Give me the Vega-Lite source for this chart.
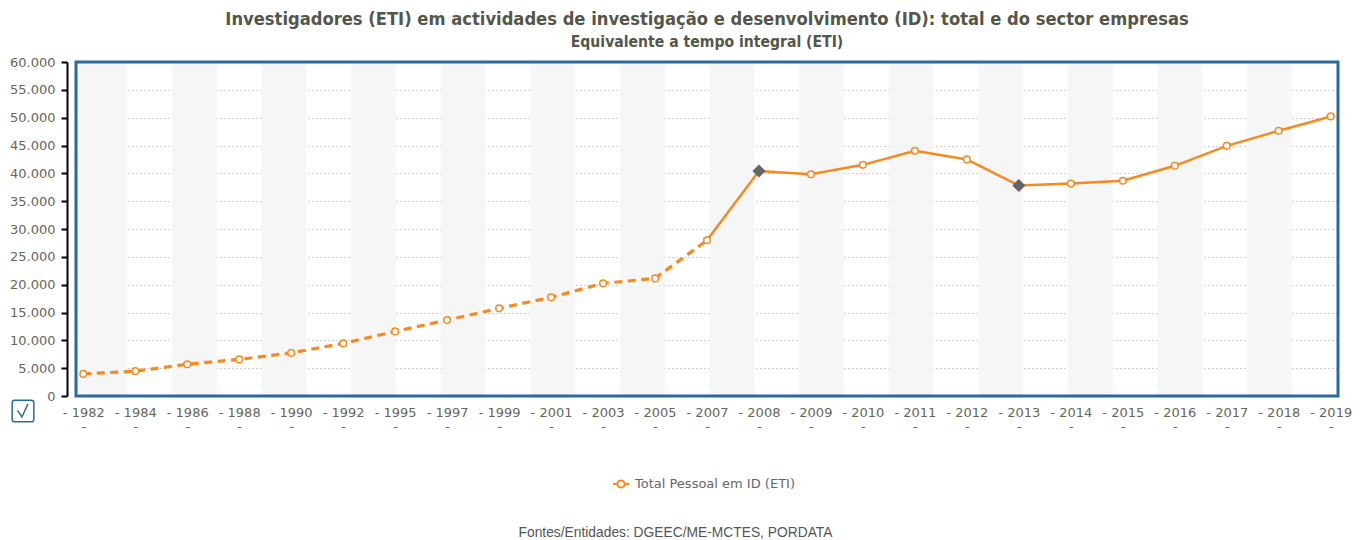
{
  "$schema": "https://vega.github.io/schema/vega-lite/v6.json",
  "width": 1262,
  "height": 334,
  "autosize": {"type": "none"},
  "padding": {"left": 76, "top": 62, "right": 27, "bottom": 144},
  "background": "white",
  "title": {
    "text": "Investigadores (ETI) em actividades de investigação e desenvolvimento (ID): total e do sector empresas",
    "subtitle": "Equivalente a tempo integral (ETI)",
    "anchor": "middle",
    "font": "DejaVu Sans Condensed",
    "fontSize": 18.2,
    "fontWeight": "bold",
    "color": "#55564a",
    "subtitleFont": "DejaVu Sans Condensed",
    "subtitleFontSize": 15.6,
    "subtitleFontWeight": "bold",
    "subtitleColor": "#55564a",
    "subtitlePadding": 6,
    "offset": 4
  },
  "config": {
    "view": {"stroke": null},
    "axis": {"labelFont": "DejaVu Sans", "labelFontSize": 13, "labelColor": "#666658"},
    "legend": {"labelFont": "DejaVu Sans", "labelFontSize": 13, "labelColor": "#666666"}
  },
  "datasets": {
    "faixas": [
      {"b0": -1, "b1": 1}, {"b0": 2, "b1": 3}, {"b0": 4, "b1": 5}, {"b0": 6, "b1": 7},
      {"b0": 8, "b1": 9}, {"b0": 10, "b1": 11}, {"b0": 12, "b1": 13}, {"b0": 14, "b1": 15},
      {"b0": 16, "b1": 17}, {"b0": 18, "b1": 19}, {"b0": 20, "b1": 21}, {"b0": 22, "b1": 23},
      {"b0": 24, "b1": 25}, {"b0": 26, "b1": 27}
    ],
    "moldura": [{"moldura": "area"}],
    "linha": [
      {"ano": "1982", "valor": 3963, "troco": "tracejado"},
      {"ano": "1984", "valor": 4464, "troco": "tracejado"},
      {"ano": "1986", "valor": 5712, "troco": "tracejado"},
      {"ano": "1988", "valor": 6577, "troco": "tracejado"},
      {"ano": "1990", "valor": 7736, "troco": "tracejado"},
      {"ano": "1992", "valor": 9451, "troco": "tracejado"},
      {"ano": "1995", "valor": 11599, "troco": "tracejado"},
      {"ano": "1997", "valor": 13642, "troco": "tracejado"},
      {"ano": "1999", "valor": 15752, "troco": "tracejado"},
      {"ano": "2001", "valor": 17725, "troco": "tracejado"},
      {"ano": "2003", "valor": 20242, "troco": "tracejado"},
      {"ano": "2005", "valor": 21126, "troco": "tracejado"},
      {"ano": "2007", "valor": 27986, "troco": "tracejado"},
      {"ano": "2007", "valor": 27986, "troco": "continuo"},
      {"ano": "2008", "valor": 40408, "troco": "continuo"},
      {"ano": "2009", "valor": 39834, "troco": "continuo"},
      {"ano": "2010", "valor": 41523, "troco": "continuo"},
      {"ano": "2011", "valor": 44043, "troco": "continuo"},
      {"ano": "2012", "valor": 42497, "troco": "continuo"},
      {"ano": "2013", "valor": 37813, "troco": "continuo"},
      {"ano": "2014", "valor": 38155, "troco": "continuo"},
      {"ano": "2015", "valor": 38672, "troco": "continuo"},
      {"ano": "2016", "valor": 41349, "troco": "continuo"},
      {"ano": "2017", "valor": 44938, "troco": "continuo"},
      {"ano": "2018", "valor": 47652, "troco": "continuo"},
      {"ano": "2019", "valor": 50223, "troco": "continuo"}
    ],
    "pontos": [
      {"ano": "1982", "valor": 3963, "marcador": "circulo"},
      {"ano": "1984", "valor": 4464, "marcador": "circulo"},
      {"ano": "1986", "valor": 5712, "marcador": "circulo"},
      {"ano": "1988", "valor": 6577, "marcador": "circulo"},
      {"ano": "1990", "valor": 7736, "marcador": "circulo"},
      {"ano": "1992", "valor": 9451, "marcador": "circulo"},
      {"ano": "1995", "valor": 11599, "marcador": "circulo"},
      {"ano": "1997", "valor": 13642, "marcador": "circulo"},
      {"ano": "1999", "valor": 15752, "marcador": "circulo"},
      {"ano": "2001", "valor": 17725, "marcador": "circulo"},
      {"ano": "2003", "valor": 20242, "marcador": "circulo"},
      {"ano": "2005", "valor": 21126, "marcador": "circulo"},
      {"ano": "2007", "valor": 27986, "marcador": "circulo"},
      {"ano": "2008", "valor": 40408, "marcador": "losango"},
      {"ano": "2009", "valor": 39834, "marcador": "circulo"},
      {"ano": "2010", "valor": 41523, "marcador": "circulo"},
      {"ano": "2011", "valor": 44043, "marcador": "circulo"},
      {"ano": "2012", "valor": 42497, "marcador": "circulo"},
      {"ano": "2013", "valor": 37813, "marcador": "losango"},
      {"ano": "2014", "valor": 38155, "marcador": "circulo"},
      {"ano": "2015", "valor": 38672, "marcador": "circulo"},
      {"ano": "2016", "valor": 41349, "marcador": "circulo"},
      {"ano": "2017", "valor": 44938, "marcador": "circulo"},
      {"ano": "2018", "valor": 47652, "marcador": "circulo"},
      {"ano": "2019", "valor": 50223, "marcador": "circulo"}
    ]
  },
  "resolve": {"scale": {"x": "independent"}, "axis": {"x": "independent"}},
  "layer": [
    {
      "data": {"name": "faixas"},
      "mark": {"type": "rect", "fill": "#f6f6f6", "clip": true},
      "encoding": {
        "x": {"field": "b0", "type": "quantitative", "axis": null,
              "scale": {"domain": [-0.143, 28.03], "nice": false, "zero": false}},
        "x2": {"field": "b1"}
      }
    },
    {
      "data": {"name": "linha"},
      "layer": [
        {
          "transform": [{"filter": "datum.troco === 'tracejado'"}],
          "mark": {"type": "line", "color": "#f7891f", "strokeWidth": 3.2, "strokeDash": [8, 5.5]},
          "encoding": {
            "x": {"field": "ano", "type": "ordinal"},
            "y": {"field": "valor", "type": "quantitative"}
          }
        },
        {
          "transform": [{"filter": "datum.troco === 'continuo'"}],
          "mark": {"type": "line", "color": "#f7891f", "strokeWidth": 2.5},
          "encoding": {
            "x": {"field": "ano", "type": "ordinal"},
            "y": {"field": "valor", "type": "quantitative"}
          }
        },
        {
          "data": {"name": "pontos"},
          "transform": [{"filter": "datum.marcador === 'circulo'"}],
          "mark": {"type": "point", "shape": "circle", "filled": true, "fill": "white", "size": 44, "strokeWidth": 1.5, "opacity": 1},
          "encoding": {
            "x": {"field": "ano", "type": "ordinal"},
            "y": {"field": "valor", "type": "quantitative"},
            "stroke": {
              "datum": "Total Pessoal em ID (ETI)",
              "scale": {"range": ["#f7891f"]},
              "legend": {
                "title": null,
                "orient": "none",
                "legendX": 536,
                "legendY": 413,
                "symbolType": "M-1,0L-0.45,0M0.45,0L1,0M-0.45,0A0.45,0.45,0,1,1,0.45,0A0.45,0.45,0,1,1,-0.45,0",
                "symbolSize": 256,
                "symbolStrokeWidth": 2,
                "symbolFillColor": "white",
                "symbolStrokeColor": "#f7891f",
                "labelOffset": 5
              }
            }
          }
        },
        {
          "data": {"name": "pontos"},
          "transform": [{"filter": "datum.marcador === 'losango'"}],
          "mark": {"type": "point", "shape": "diamond", "filled": true, "fill": "#646464", "size": 170, "opacity": 1},
          "encoding": {
            "x": {"field": "ano", "type": "ordinal"},
            "y": {"field": "valor", "type": "quantitative"}
          }
        }
      ],
      "encoding": {
        "x": {
          "field": "ano",
          "type": "ordinal",
          "scale": {"type": "point", "padding": 0.14},
          "axis": {
            "title": "Fontes/Entidades: DGEEC/ME-MCTES, PORDATA",
            "titleFont": "Liberation Sans",
            "titleFontSize": 13.8,
            "titleFontWeight": "normal",
            "titleColor": "#555555",
            "titlePadding": 92,
            "titleX": 599,
            "labelAngle": 0,
            "labelExpr": "['- ' + datum.label, '-']",
            "labelLineHeight": 14,
            "labelPadding": 10,
            "domain": false,
            "ticks": false,
            "grid": false
          }
        },
        "y": {
          "field": "valor",
          "type": "quantitative",
          "scale": {"domain": [0, 60000], "nice": false},
          "axis": {
            "title": null,
            "values": [0, 5000, 10000, 15000, 20000, 25000, 30000, 35000, 40000, 45000, 50000, 55000, 60000],
            "labelExpr": "replace(format(datum.value, ','), ',', '.')",
            "offset": 9,
            "domainColor": "#000000",
            "domainWidth": 2,
            "tickColor": "#000000",
            "tickWidth": 2,
            "tickSize": 6,
            "labelPadding": 6,
            "grid": true,
            "gridColor": "#a0a0a0",
            "gridDash": [1, 3],
            "gridWidth": 1
          }
        }
      }
    },
    {
      "data": {"name": "moldura"},
      "mark": {"type": "rect", "filled": false, "strokeWidth": 3},
      "encoding": {
        "color": {
          "datum": "seleccionar",
          "scale": {"range": ["#2b6a9b"]},
          "legend": {
            "title": null,
            "orient": "none",
            "legendX": -65,
            "legendY": 337,
            "padding": 0,
            "symbolType": "M-0.75,-1H0.75A0.25,0.25,0,0,1,1,-0.75V0.75A0.25,0.25,0,0,1,0.75,1H-0.75A0.25,0.25,0,0,1,-1,0.75V-0.75A0.25,0.25,0,0,1,-0.75,-1ZM-0.5,-0.05L-0.1,0.55L0.45,-0.65",
            "symbolSize": 470,
            "symbolStrokeWidth": 1.5,
            "symbolFillColor": "white",
            "symbolOpacity": 1,
            "labelExpr": "''",
            "encode": {
              "symbols": {
                "enter": {"stroke": {"value": "#4da3f2"}, "fill": {"value": "white"}},
                "update": {"stroke": {"value": "#4da3f2"}, "fill": {"value": "white"}}
              }
            }
          }
        }
      }
    }
  ]
}
